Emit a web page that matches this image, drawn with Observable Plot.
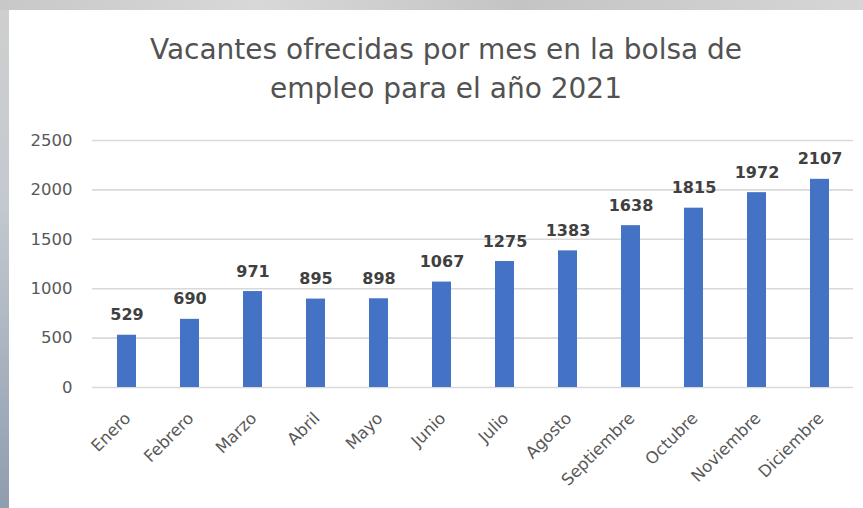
<!DOCTYPE html>
<html>
<head>
<meta charset="utf-8">
<script src="https://cdn.jsdelivr.net/npm/d3@7"></script>
<script src="https://cdn.jsdelivr.net/npm/@observablehq/plot@0.6"></script>
<style>
  html, body { margin: 0; padding: 0; width: 863px; height: 508px; overflow: hidden; }
  body { position: relative; font-family: "DejaVu Sans", sans-serif;
         background: linear-gradient(180deg, #cfcfcf 0%, #c4c9d0 40%, #8f9db0 100%); }
  #topstrip { position: absolute; left: 0; top: 0; width: 863px; height: 10px;
              background: linear-gradient(90deg, #c8c8c8 0%, #d8d8d8 30%, #c4c4c4 60%, #d6d6d6 100%); }
  #panel { position: absolute; left: 9px; top: 10px; width: 854px; height: 498px; background: #fff; }
  #title { position: absolute; left: 0; top: 30px; width: 892px; text-align: center; color: #525252;
           font-size: 28px; line-height: 39px; font-family: "DejaVu Sans", sans-serif; }
  #chart { position: absolute; left: 0; top: 120px; }
</style>
</head>
<body>
<div id="topstrip"></div>
<div id="panel"></div>
<div id="title">Vacantes ofrecidas por mes en la bolsa de<br>empleo para el año 2021</div>
<div id="chart"></div>
<script>
const months = ["Enero","Febrero","Marzo","Abril","Mayo","Junio","Julio","Agosto","Septiembre","Octubre","Noviembre","Diciembre"];
const vacantes = [529, 690, 971, 895, 898, 1067, 1275, 1383, 1638, 1815, 1972, 2107];
const yTicks = [0, 500, 1000, 1500, 2000, 2500];

const data = months.map((m, i) => ({mes: m, valor: vacantes[i]}));

const chart = Plot.plot({
  width: 863,
  height: 388,
  marginTop: 20,
  marginBottom: 121,
  marginLeft: 92,
  marginRight: 10,
  style: {fontFamily: "'DejaVu Sans', sans-serif", background: "transparent", color: "#595959"},
  x: {domain: months, paddingInner: 0.7, paddingOuter: 0.35, label: null},
  y: {domain: [0, 2500], ticks: yTicks, label: null},
  marks: [
    Plot.gridY(yTicks, {stroke: "#d9d9d9", strokeOpacity: 1, strokeWidth: 1.6}),
    Plot.barY(data, {x: "mes", y: "valor", fill: "#4472c4"}),
    Plot.text(data, {x: "mes", y: "valor", text: d => String(d.valor), lineAnchor: "bottom", dy: -15, fontSize: 16, fontWeight: "bold", fill: "#404040"}),
    Plot.axisY(yTicks, {tickSize: 0, tickPadding: 20, fontSize: 16.5, fill: "#595959", tickFormat: d => String(d)}),
    Plot.axisX({tickSize: 0, tickPadding: 28, dx: 1, tickRotate: -45, fontSize: 16.5, fill: "#595959"})
  ]
});
document.getElementById("chart").appendChild(chart);
</script>
</body>
</html>
